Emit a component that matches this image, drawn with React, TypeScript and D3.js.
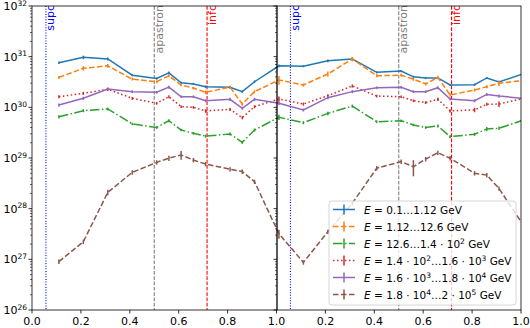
import React from "react";
import * as d3 from "d3";

// orbital phase of each bin (second cycle continues past 1.0)
const phase = [0.11, 0.21, 0.31, 0.41, 0.51, 0.56, 0.61, 0.66, 0.71, 0.81, 0.86, 0.91,
  1.01, 1.11, 1.21, 1.31, 1.41, 1.51, 1.56, 1.61, 1.66, 1.71, 1.81, 1.86, 1.91, 2.01];

const band1 = [7.6e30, 9.7e30, 9.0e30, 4.3e30, 3.7e30, 4.8e30, 3.06e30, 2.9e30, 2.55e30, 2.5e30, 2.04e30, 3.2e30,
  6.6e30, 6.5e30, 8.3e30, 9.0e30, 4.9e30, 5.2e30, 4.0e30, 3.8e30, 3.8e30, 2.76e30, 2.8e30, 3.8e30, 3.16e30, 4.6e30];
const band2 = [3.9e30, 5.9e30, 6.6e30, 3.6e30, 3.2e30, 4.2e30, 2.76e30, 2.4e30, 1.98e30, 2.5e30, 1.16e30, 2.04e30,
  3.47e30, 2.76e30, 4.55e30, 9.0e30, 4.2e30, 4.3e30, 3.6e30, 2.9e30, 3.9e30, 1.75e30, 2.2e30, 2.55e30, 2.98e30, 3.4e30];
const band3 = [6.5e29, 8.6e29, 9.3e29, 4.7e29, 4.0e29, 5.45e29, 3.57e29, 3.08e29, 2.7e29, 2.98e29, 2.04e29, 3.57e29,
  6.36e29, 4.98e29, 7.6e29, 1.06e30, 5.2e29, 5.45e29, 4.48e29, 4.0e29, 4.28e29, 2.64e29, 2.94e29, 3.74e29, 3.86e29, 5.6e29];
const band4 = [1.62e30, 1.89e30, 2.27e30, 1.51e30, 1.2e30, 1.62e30, 1.03e30, 1.0e30, 8.5e29, 9.1e29, 6.25e29, 1.03e30,
  1.46e30, 1.16e30, 1.7e30, 2.64e30, 1.67e30, 1.62e30, 1.35e30, 1.24e30, 1.44e30, 8.5e29, 8.9e29, 1.15e30, 1.16e30, 1.5e30];
const band5 = [1.11e30, 1.51e30, 2.3e30, 2.04e30, 1.98e30, 2.5e30, 1.62e30, 1.62e30, 1.35e30, 1.44e30, 9.6e29, 1.44e30,
  1.2e30, 8.9e29, 1.55e30, 2.04e30, 2.44e30, 2.5e30, 2.04e30, 2.04e30, 2.44e30, 1.46e30, 1.35e30, 1.8e30, 1.67e30, 1.5e30];
const band6 = [9.0e26, 2.23e27, 2.1e28, 5.2e28, 8.2e28, 9.9e28, 1.15e29, 9.1e28, 7.6e28, 6.0e28, 5.4e28, 3.4e28,
  3.2e27, 8.7e26, 3.5e27, 1.28e28, 6.3e28, 8.5e28, 6.7e28, 9.5e28, 1.27e29, 9.9e28, 5.0e28, 4.6e28, 2.5e28, 4.7e27];

// relative errors
const err1 = [0.06, 0.08, 0.07, 0.05, 0.05, 0.06, 0.05, 0.05, 0.06, 0.06, 0.05, 0.06,
  0.06, 0.05, 0.06, 0.07, 0.05, 0.05, 0.05, 0.05, 0.05, 0.05, 0.05, 0.05, 0.06, 0.06];
const err2 = [0.07, 0.1, 0.08, 0.06, 0.06, 0.07, 0.06, 0.06, 0.08, 0.07, 0.07, 0.07,
  0.2, 0.07, 0.12, 0.1, 0.07, 0.07, 0.07, 0.07, 0.08, 0.07, 0.07, 0.07, 0.12, 0.07];
const err3 = [0.07, 0.07, 0.07, 0.06, 0.06, 0.07, 0.06, 0.06, 0.07, 0.07, 0.07, 0.07,
  0.12, 0.07, 0.08, 0.07, 0.06, 0.06, 0.06, 0.06, 0.07, 0.07, 0.07, 0.1, 0.08, 0.07];
const err4 = [0.07, 0.07, 0.07, 0.06, 0.06, 0.07, 0.06, 0.06, 0.08, 0.07, 0.07, 0.07,
  0.12, 0.07, 0.07, 0.07, 0.06, 0.06, 0.06, 0.06, 0.07, 0.07, 0.1, 0.07, 0.12, 0.07];
const err5 = [0.07, 0.07, 0.07, 0.06, 0.06, 0.07, 0.06, 0.06, 0.07, 0.07, 0.07, 0.07,
  0.07, 0.07, 0.07, 0.07, 0.06, 0.06, 0.06, 0.06, 0.07, 0.07, 0.07, 0.07, 0.07, 0.07];
const err6 = [0.1, 0.1, 0.12, 0.1, 0.1, 0.12, 0.2, 0.1, 0.1, 0.1, 0.1, 0.1,
  0.2, 0.1, 0.1, 0.1, 0.1, 0.1, 0.35, 0.1, 0.1, 0.1, 0.1, 0.1, 0.1, 0.1];

const bandLabels = ["0.1…1.12", "1.12…12.6", "12.6…1.4·10^2", "1.4·10^2…1.6·10^3", "1.6·10^3…1.8·10^4", "1.8·10^4…2·10^5"];

const markers = [
  { phase: 0.057, label: "supc", color: "blue", dash: "1,1.65" },
  { phase: 0.5, label: "apastron", color: "gray", dash: "3.7,1.6" },
  { phase: 0.716, label: "infc", color: "red", dash: "3.7,1.6" },
];

const xTicks = [0, 0.2, 0.4, 0.6, 0.8, 1.0, 1.2, 1.4, 1.6, 1.8, 2.0];
const yDecades = [26, 27, 28, 29, 30, 31, 32];

const colors = ["#1f77b4", "#ff7f0e", "#2ca02c", "#d62728", "#9467bd", "#8c564b"];
const dashes = ["", "5.55,2.4", "9.6,2.4,1.5,2.4", "1.5,2.48", "", "5.55,2.4"];

const FONT = "DejaVu Sans, sans-serif";

// text with ^n superscripts, followed by a unit that returns to the baseline
const mathLabel = (s: string, tail: string) => {
  const parts = s.replace(/·/g, " · ").split(/\^(\d+)/);
  const out: React.ReactNode[] = [];
  let raised = false;
  parts.forEach((p, i) => {
    if (i % 2 === 1) {
      out.push(<tspan key={i} dy={-4} fontSize={7.5}>{p}</tspan>);
      raised = true;
    } else if (p.length > 0) {
      out.push(<tspan key={i} dy={raised ? 4 : 0}>{p}</tspan>);
      raised = false;
    }
  });
  out.push(<tspan key="tail" dy={raised ? 4 : 0}>{tail}</tspan>);
  return out;
};

const App = () => {
  const L = 32, M = 277, R = 521, T = 6, B = 310;
  const x = d3.scaleLinear().domain([0, 2]).range([L, R]);
  const y = d3.scaleLog().domain([1e26, 1e32]).range([B, T]);

  const bands = [band1, band2, band3, band4, band5, band6];
  const errs = [err1, err2, err3, err4, err5, err6];

  const line = d3.line<number>().x((_, i) => x(phase[i])).y(d => y(d));

  const minor: number[] = [];
  yDecades.slice(0, -1).forEach(e => {
    for (let k = 2; k <= 9; k++) minor.push(k * Math.pow(10, e));
  });

  const legX = 329, legY = 201, legW = 187, legH = 104, rowH = 17;

  return (
    <svg width={530} height={328} style={{ position: "absolute", left: 0, top: 0 }} fontFamily={FONT}>
      <defs>
        <clipPath id="plot">
          <rect x={L} y={T} width={R - L} height={B - T} />
        </clipPath>
      </defs>
      <rect width={530} height={328} fill="white" />

      <g clipPath="url(#plot)">
        {markers.map(m => [0, 1].map(c => {
          const xl = x(m.phase + c);
          return (
            <g key={m.label + c}>
              <line x1={xl} x2={xl} y1={T} y2={B} stroke={m.color} strokeWidth={1.1} strokeDasharray={m.dash} />
              <text transform={`translate(${xl + 8.5},${T - 1}) rotate(-90)`} textAnchor="end"
                fontSize={11} fill={m.color}>{m.label}</text>
            </g>
          );
        }))}

        {bands.map((vals, s) => (
          <g key={s}>
            <path d={line(vals) || ""} fill="none" stroke={colors[s]} strokeWidth={1.5}
              strokeDasharray={dashes[s] || undefined} />
            {vals.map((v, i) => (
              <line key={i} x1={x(phase[i])} x2={x(phase[i])}
                y1={y(v * (1 - errs[s][i]))} y2={y(v * (1 + errs[s][i]))}
                stroke={colors[s]} strokeWidth={1.5} />
            ))}
          </g>
        ))}
      </g>

      {/* spines */}
      <rect x={L} y={T} width={M - L} height={B - T} fill="none" stroke="black" strokeWidth={0.8} />
      <rect x={M} y={T} width={R - M} height={B - T} fill="none" stroke="black" strokeWidth={0.8} />

      {/* y ticks on both panels */}
      {[L, M].map(sx => (
        <g key={sx}>
          {yDecades.map(e => (
            <line key={e} x1={sx - 3.5} x2={sx} y1={y(Math.pow(10, e))} y2={y(Math.pow(10, e))} stroke="black" strokeWidth={0.8} />
          ))}
          {minor.map(v => (
            <line key={v} x1={sx - 2} x2={sx} y1={y(v)} y2={y(v)} stroke="black" strokeWidth={0.6} />
          ))}
        </g>
      ))}
      {yDecades.map(e => (
        <text key={e} x={L - 5} y={y(Math.pow(10, e)) + 4} textAnchor="end" fontSize={11} fill="black">
          10<tspan dy={-4.5} fontSize={7.5}>{e}</tspan>
        </text>
      ))}

      {/* x ticks */}
      {xTicks.map(t => (
        <g key={t}>
          <line x1={x(t)} x2={x(t)} y1={B} y2={B + 3.5} stroke="black" strokeWidth={0.8} />
          <text x={x(t)} y={B + 14.5} textAnchor="middle" fontSize={11} fill="black">
            {(t > 1 ? t - 1 : t).toFixed(1)}
          </text>
        </g>
      ))}

      {/* legend */}
      <rect x={legX} y={legY} width={legW} height={legH} rx={3} fill="white" fillOpacity={0.8}
        stroke="#cccccc" strokeWidth={0.8} />
      {bandLabels.map((lab, s) => {
        const cy = legY + 8.5 + s * rowH;
        return (
          <g key={s}>
            <line x1={legX + 4} x2={legX + 26} y1={cy} y2={cy} stroke={colors[s]} strokeWidth={1.5}
              strokeDasharray={dashes[s] || undefined} />
            <line x1={legX + 15} x2={legX + 15} y1={cy - 5} y2={cy + 5} stroke={colors[s]} strokeWidth={1.5} />
            <text x={legX + 35} y={cy + 4} fontSize={10.5} fill="black">
              <tspan fontStyle="italic">E</tspan>
              <tspan> = </tspan>
              {mathLabel(lab, " GeV")}
            </text>
          </g>
        );
      })}
    </svg>
  );
};

export default App;
